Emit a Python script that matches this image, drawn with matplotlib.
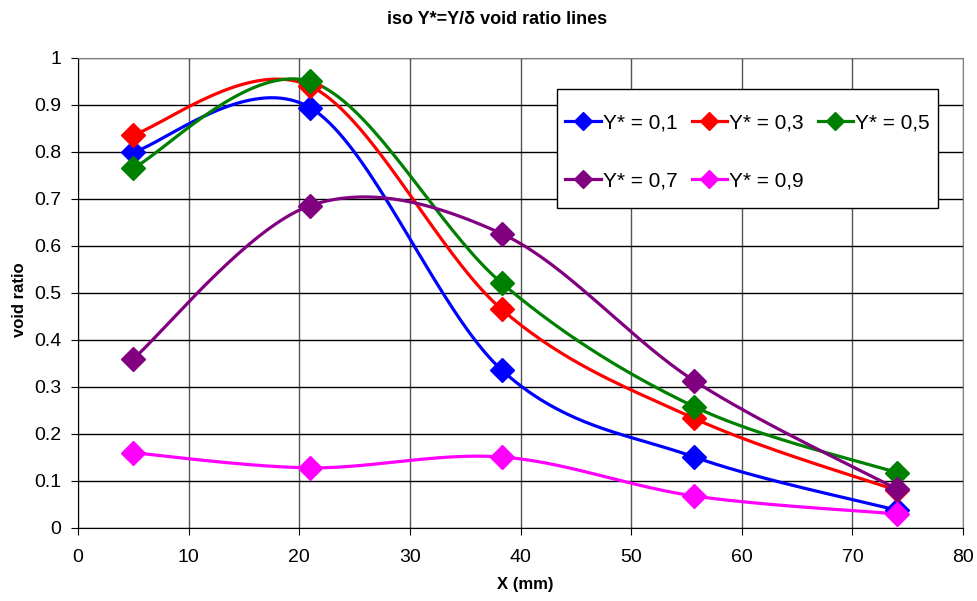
import numpy as np
import matplotlib.pyplot as plt
from matplotlib.patches import Rectangle

plt.rcParams['font.family'] = ['Liberation Sans', 'DejaVu Sans']

x_mm = [5, 21, 38.3, 55.7, 74]
labels = ["Y* = 0,1", "Y* = 0,3", "Y* = 0,5", "Y* = 0,7", "Y* = 0,9"]
colors = ["#0000ff", "#ff0000", "#008000", "#800080", "#ff00ff"]
void_01 = [0.800, 0.894, 0.336, 0.151, 0.038]
void_03 = [0.837, 0.940, 0.465, 0.233, 0.080]
void_05 = [0.766, 0.950, 0.521, 0.258, 0.118]
void_07 = [0.360, 0.686, 0.626, 0.313, 0.083]
void_09 = [0.160, 0.128, 0.151, 0.068, 0.030]
series = [void_01, void_03, void_05, void_07, void_09]


def smooth(xs, ys, n=40):
    # excel-like smoothed line: cubic bezier through the points
    p = np.column_stack([xs, ys]).astype(float)
    ext = np.vstack([p[0], p, p[-1]])
    out = []
    t = np.linspace(0, 1, n)[:, None]
    for i in range(len(p) - 1):
        p0, p3 = ext[i + 1], ext[i + 2]
        c1 = p0 + (ext[i + 2] - ext[i]) / 6
        c2 = p3 - (ext[i + 3] - ext[i + 1]) / 6
        seg = ((1 - t) ** 3) * p0 + 3 * ((1 - t) ** 2) * t * c1 + 3 * (1 - t) * t ** 2 * c2 + t ** 3 * p3
        out.append(seg)
    out = np.vstack(out)
    return out[:, 0], out[:, 1]


fig = plt.figure(figsize=(9.78, 6.01), dpi=100)
ax = fig.add_axes([0.0798, 0.1215, 0.905, 0.782])

handles = []
for ys, lab, c in zip(series, labels, colors):
    sx, sy = smooth(x_mm, ys)
    ax.plot(sx, sy, color=c, lw=2.3, zorder=3)
    ax.plot(x_mm, ys, ls='none', marker='D', ms=12, color=c, zorder=4)
    h, = ax.plot([], [], color=c, lw=2.3, marker='D', ms=9, label=lab)
    handles.append(h)

ax.set_xlim(0, 80)
ax.set_ylim(0, 1)
ax.set_xticks(np.arange(0, 81, 10))
ax.set_yticks(np.arange(0, 1.01, 0.1))
ax.set_yticklabels(["0", "0.1", "0.2", "0.3", "0.4", "0.5", "0.6", "0.7", "0.8", "0.9", "1"])
ax.xaxis.grid(True, color='#555555', lw=1)
ax.yaxis.grid(True, color='black', lw=1)
ax.set_axisbelow(True)
ax.tick_params(labelsize=14, direction='out', length=5)
ax.tick_params(axis='x', pad=10)
ax.tick_params(axis='y', pad=7)
for s in ['top', 'right']:
    ax.spines[s].set_color('gray')

fig.text(0.537, 1 - 585 / 601, "X (mm)", fontsize=12, fontweight='bold', ha='center', va='center')
fig.text(0.0195, 1 - 300 / 601, "void ratio", fontsize=12, fontweight='bold', ha='center', va='center',
         rotation=90)
fig.text(0.508, 0.968, "iso Y*=Y/δ void ratio lines", fontsize=13, fontweight='bold', ha='center', va='center')

# legend frame drawn separately so the vertical padding can differ from the horizontal one
ax.add_patch(Rectangle((0.5412, 0.681), 0.4306, 0.253, transform=ax.transAxes, facecolor='white',
                       edgecolor='black', lw=1, zorder=5))
order = [0, 3, 1, 4, 2]
leg = ax.legend([handles[i] for i in order], [labels[i] for i in order], ncol=3, loc='center',
                bbox_to_anchor=(0.7565, 0.800), fontsize=15, frameon=False,
                labelspacing=1.9, columnspacing=0.67, handlelength=1.7, handletextpad=0.1,
                borderpad=0.4)
leg.set_zorder(6)

fig.savefig("out.png", dpi=100)
